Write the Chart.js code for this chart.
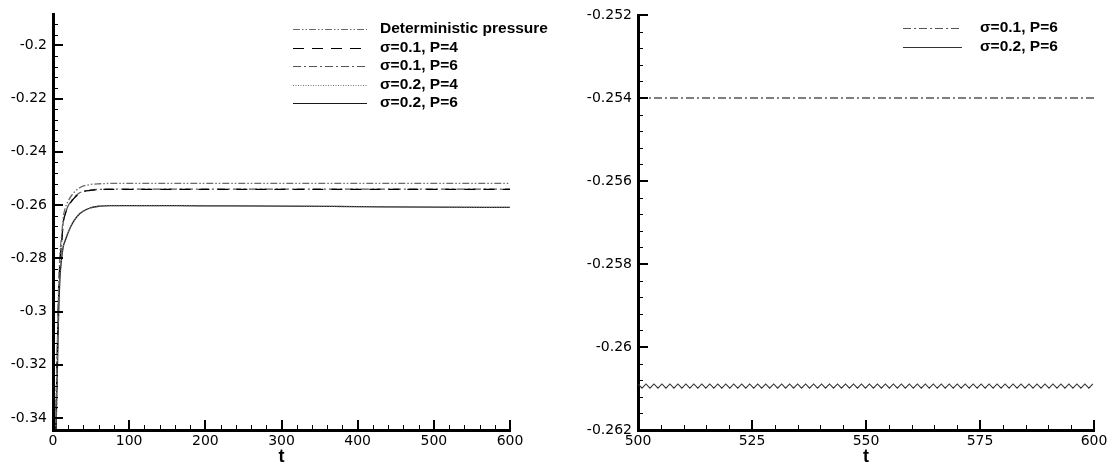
<!DOCTYPE html>
<html>
<head>
<meta charset="utf-8">
<script src="https://cdn.jsdelivr.net/npm/chart.js@4"></script>
<style>
  html, body { margin: 0; padding: 0; background: #fff; }
  #wrap { position: relative; width: 1115px; height: 466px; }
  #c1 { position: absolute; left: 0; top: 0; }
  #c2 { position: absolute; left: 555px; top: 0; }
</style>
</head>
<body>
<div id="wrap">
  <canvas id="c1" width="555" height="466"></canvas>
  <canvas id="c2" width="560" height="466"></canvas>
</div>
<script>
// ---- pressure history, full run (t = 0 .. 600) ----
const timeFull = [0, 2, 4, 5.5, 7, 9, 11.5, 13.5, 16, 20, 26, 35, 49, 62, 75, 100, 200, 300, 400, 500, 600];
const deterministicPressure = [-0.42, -0.37, -0.335, -0.315, -0.295, -0.279, -0.271, -0.2646, -0.2612, -0.2585, -0.2558, -0.2535, -0.2523, -0.2520, -0.2519, -0.2519, -0.2519, -0.2519, -0.2519, -0.2519, -0.2519];
const sigma01P4 = [-0.43, -0.375, -0.338, -0.318, -0.298, -0.282, -0.2735, -0.2665, -0.2635, -0.2605, -0.258, -0.2556, -0.2545, -0.2542, -0.2541, -0.2541, -0.2541, -0.2541, -0.2541, -0.2541, -0.2541];
const sigma01P6 = [-0.43, -0.375, -0.338, -0.318, -0.298, -0.282, -0.2733, -0.2663, -0.2633, -0.2603, -0.2578, -0.2554, -0.2544, -0.2541, -0.2540, -0.2540, -0.2540, -0.2540, -0.2540, -0.2540, -0.2540];
const sigma02P4 = [-0.45, -0.385, -0.345, -0.325, -0.305, -0.288, -0.2796, -0.2755, -0.2734, -0.2702, -0.2666, -0.2633, -0.2611, -0.2604, -0.2602, -0.2602, -0.2603, -0.2604, -0.2606, -0.2608, -0.2609];
const sigma02P6 = [-0.45, -0.385, -0.345, -0.325, -0.305, -0.288, -0.2796, -0.2755, -0.2734, -0.2702, -0.2666, -0.2633, -0.2611, -0.2604, -0.2602, -0.2602, -0.2603, -0.2604, -0.2606, -0.2608, -0.2609];

// ---- late-time window (t = 500 .. 600) ----
const timeLate = [500, 600];
const sigma01P6Late = [-0.2540, -0.2540];
const lateStart = 500;
const lateStep = 0.875;   // output interval of the P=6 samples
const sigma02P6Late = [
  -0.26089, -0.26099, -0.26089, -0.26099, -0.26089, -0.26099, -0.26089, -0.26099, -0.26089, -0.26099,
  -0.26089, -0.26099, -0.26089, -0.26099, -0.26089, -0.26099, -0.26089, -0.26099, -0.26089, -0.26099,
  -0.26089, -0.26099, -0.26089, -0.26099, -0.26089, -0.26099, -0.26089, -0.26099, -0.26089, -0.26099,
  -0.26089, -0.26099, -0.26089, -0.26099, -0.26089, -0.26099, -0.26089, -0.26099, -0.26089, -0.26099,
  -0.26089, -0.26099, -0.26089, -0.26099, -0.26089, -0.26099, -0.26089, -0.26099, -0.26089, -0.26099,
  -0.26089, -0.26099, -0.26089, -0.26099, -0.26089, -0.26099, -0.26089, -0.26099, -0.26089, -0.26099,
  -0.26089, -0.26099, -0.26089, -0.26099, -0.26089, -0.26099, -0.26089, -0.26099, -0.26089, -0.26099,
  -0.26089, -0.26099, -0.26089, -0.26099, -0.26089, -0.26099, -0.26089, -0.26099, -0.26089, -0.26099,
  -0.26089, -0.26099, -0.26089, -0.26099, -0.26089, -0.26099, -0.26089, -0.26099, -0.26089, -0.26099,
  -0.26089, -0.26099, -0.26089, -0.26099, -0.26089, -0.26099, -0.26089, -0.26099, -0.26089, -0.26099,
  -0.26089, -0.26099, -0.26089, -0.26099, -0.26089, -0.26099, -0.26089, -0.26099, -0.26089, -0.26099,
  -0.26089, -0.26099, -0.26089, -0.26099, -0.26089
];

// ---- labels ----
const labelsFull = ['Deterministic pressure', 'σ=0.1, P=4', 'σ=0.1, P=6', 'σ=0.2, P=4', 'σ=0.2, P=6'];
const labelsLate = ['σ=0.1, P=6', 'σ=0.2, P=6'];
const xTitle = 't';

const pairs = (xs, ys) => ys.map((y, i) => ({ x: xs[i], y }));
const TICK_FONT = "'DejaVu Sans', 'Liberation Sans', Arial, sans-serif";
const TEXT_FONT = "'Liberation Sans', Arial, Helvetica, sans-serif";

const isMultiple = (v, step) => Math.abs(v / step - Math.round(v / step)) < 1e-6;
const fmt = v => String(parseFloat(v.toFixed(4)));

// tick marks drawn inward from the axes, major and minor
const insideTicks = {
  id: 'insideTicks',
  afterDatasetsDraw(chart, args, opts) {
    const { ctx, chartArea: a } = chart;
    const xs = chart.scales.x, ys = chart.scales.y;
    ctx.save();
    ctx.strokeStyle = '#000';
    xs.ticks.forEach(t => {
      if (!isMultiple(t.value, opts.xMinor)) return;
      const major = isMultiple(t.value, opts.xMajor);
      const p = Math.round(xs.getPixelForValue(t.value)) + (major ? 0 : 0.5);
      ctx.lineWidth = major ? 2 : 1;
      ctx.beginPath();
      ctx.moveTo(p, a.bottom);
      ctx.lineTo(p, a.bottom - (major ? 10 : 5));
      ctx.stroke();
    });
    ys.ticks.forEach(t => {
      if (!isMultiple(t.value, opts.yMinor)) return;
      const major = isMultiple(t.value, opts.yMajor);
      const p = Math.round(ys.getPixelForValue(t.value)) + (major ? 0 : 0.5);
      ctx.lineWidth = major ? 2 : 1;
      ctx.beginPath();
      ctx.moveTo(a.left, p);
      ctx.lineTo(a.left + (major ? 10 : 5), p);
      ctx.stroke();
    });
    ctx.restore();
  }
};

// line-sample legend placed inside the plot
const lineLegend = {
  id: 'lineLegend',
  afterDraw(chart, args, opts) {
    const { ctx } = chart;
    ctx.save();
    chart.data.datasets.forEach((ds, i) => {
      const y = opts.y + i * opts.gap;
      ctx.strokeStyle = ds.borderColor;
      ctx.lineWidth = 1.2;
      ctx.setLineDash(ds.borderDash || []);
      ctx.beginPath();
      ctx.moveTo(opts.x, Math.round(y) + 0.5);
      ctx.lineTo(opts.x + opts.len, Math.round(y) + 0.5);
      ctx.stroke();
      ctx.setLineDash([]);
      ctx.fillStyle = '#000';
      ctx.font = 'bold 15.5px ' + TEXT_FONT;
      ctx.textBaseline = 'middle';
      ctx.textAlign = 'left';
      ctx.fillText(ds.label, opts.textX, y);
    });
    ctx.restore();
  }
};

function axes(xMin, xMax, xMinor, xMajor, yMin, yMax, yMinor, yMajor, yWidth) {
  return {
    x: {
      type: 'linear', min: xMin, max: xMax,
      afterFit: s => { s.height = 36; },
      grid: { display: false, drawTicks: false },
      border: { display: true, color: '#000', width: 3 },
      ticks: {
        stepSize: xMinor, includeBounds: false, autoSkip: false, maxRotation: 0, padding: 3,
        color: '#000', font: { family: TICK_FONT, size: 14 },
        callback: v => isMultiple(v, xMajor) ? fmt(v) : ''
      },
      title: {
        display: true, text: xTitle, color: '#000',
        font: { family: TEXT_FONT, size: 18, weight: 'bold', lineHeight: 1 },
        padding: { top: 0, bottom: 0 }
      }
    },
    y: {
      type: 'linear', min: yMin, max: yMax,
      afterFit: s => { s.width = yWidth; },
      grid: { display: false, drawTicks: false },
      border: { display: true, color: '#000', width: 3 },
      ticks: {
        stepSize: yMinor, includeBounds: false, autoSkip: false, padding: 6,
        color: '#000', font: { family: TICK_FONT, size: 14 },
        callback: v => isMultiple(v, yMajor) ? fmt(v) : ''
      }
    }
  };
}

const lineBase = { fill: false, pointRadius: 0, borderWidth: 1.3, cubicInterpolationMode: 'monotone' };

new Chart(document.getElementById('c1'), {
  type: 'line',
  data: {
    datasets: [
      { ...lineBase, label: labelsFull[0], data: pairs(timeFull, deterministicPressure), borderColor: '#6a6a6a', borderDash: [7, 2, 1.5, 2, 1.5, 2] },
      { ...lineBase, label: labelsFull[1], data: pairs(timeFull, sigma01P4), borderColor: '#000', borderDash: [11, 8] },
      { ...lineBase, label: labelsFull[2], data: pairs(timeFull, sigma01P6), borderColor: '#555', borderDash: [8, 3, 2, 3] },
      { ...lineBase, label: labelsFull[3], data: pairs(timeFull, sigma02P4), borderColor: '#777', borderDash: [1, 1.5] },
      { ...lineBase, label: labelsFull[4], data: pairs(timeFull, sigma02P6), borderColor: '#1a1a1a' }
    ]
  },
  options: {
    responsive: false, animation: false, parsing: false,
    layout: { padding: { top: 13, right: 45, left: 0, bottom: 0 } },
    scales: axes(0, 600, 20, 100, -0.3445, -0.1884, 0.004, 0.02, 53),
    plugins: {
      legend: { display: false }, tooltip: { enabled: false },
      insideTicks: { xMinor: 20, xMajor: 100, yMinor: 0.004, yMajor: 0.02 },
      lineLegend: { x: 293, len: 74, textX: 380, y: 29, gap: 18.5 }
    }
  },
  plugins: [insideTicks, lineLegend]
});

new Chart(document.getElementById('c2'), {
  type: 'line',
  data: {
    datasets: [
      { ...lineBase, label: labelsLate[0], data: pairs(timeLate, sigma01P6Late), borderColor: '#555', borderDash: [8, 3, 2, 3] },
      { ...lineBase, label: labelsLate[1], borderWidth: 1.1, cubicInterpolationMode: 'default', tension: 0,
        data: sigma02P6Late.map((y, i) => ({ x: lateStart + i * lateStep, y })), borderColor: '#333' }
    ]
  },
  options: {
    responsive: false, animation: false, parsing: false,
    layout: { padding: { top: 15, right: 21, left: 0, bottom: 0 } },
    scales: axes(500, 600, 5, 25, -0.262, -0.252, 0.0004, 0.002, 83),
    plugins: {
      legend: { display: false }, tooltip: { enabled: false },
      insideTicks: { xMinor: 5, xMajor: 25, yMinor: 0.0004, yMajor: 0.002 },
      lineLegend: { x: 348, len: 59, textX: 425, y: 28, gap: 19 }
    }
  },
  plugins: [insideTicks, lineLegend]
});
</script>
</body>
</html>
